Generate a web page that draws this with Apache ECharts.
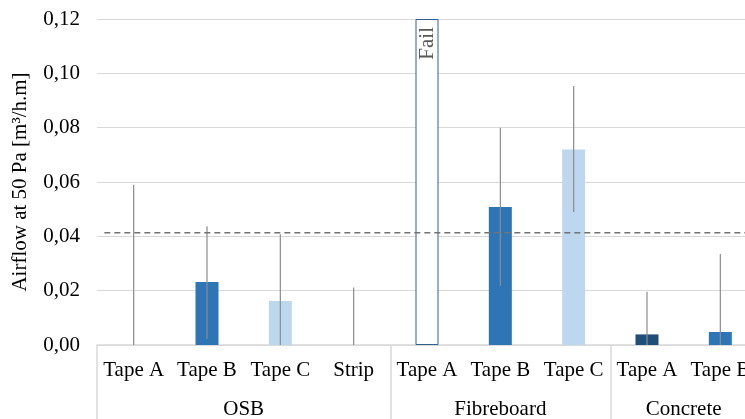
<!DOCTYPE html>
<html>
<head>
<meta charset="utf-8">
<script src="https://cdn.jsdelivr.net/npm/echarts@6/dist/echarts.min.js"></script>
<style>
  html, body { margin: 0; padding: 0; background: #fff; }
  #chart { width: 745px; height: 419px; }
</style>
</head>
<body>
<div id="chart"></div>
<script>
// Sealing products on different substrates: airflow at 50 Pa per metre of joint
const categories = ['Tape A', 'Tape B', 'Tape C', 'Strip', 'Tape A', 'Tape B', 'Tape C', 'Tape A', 'Tape B'];
const groupNames = ['OSB', 'Fibreboard', 'Concrete'];
const groupSizes = [4, 3, 2];
const airflow = [0, 0.0232, 0.0162, 0, 0.12, 0.0508, 0.072, 0.0039, 0.0048];
const errLow  = [0, 0.0022, 0, 0, null, 0.0217, 0.049, 0, 0];
const errHigh = [0.059, 0.0437, 0.0408, 0.0212, null, 0.080, 0.0953, 0.0196, 0.0335];
const status  = ['', '', '', '', 'Fail', '', '', '', ''];
const limitValue = 0.0413;
const yTicks = [0, 0.02, 0.04, 0.06, 0.08, 0.10, 0.12];

const barColors = ['#2e75b6', '#2e75b6', '#bdd7ee', '#2e75b6', '#ffffff', '#2e75b6', '#bdd7ee', '#1f4e79', '#2e75b6'];
const FONT = "'Liberation Serif', 'Times New Roman', serif";
const FS = 21;

// group boundaries and centres, in category units
const groupEdges = [0];
groupSizes.forEach(s => groupEdges.push(groupEdges[groupEdges.length - 1] + s));
const groupCentres = groupSizes.map((s, i) => groupEdges[i] + s / 2);
const span = groupEdges[groupEdges.length - 1];

const barData = airflow.map((v, i) => {
  const item = { value: v, itemStyle: { color: barColors[i] } };
  if (status[i]) {
    item.itemStyle = { color: '#ffffff', borderColor: '#2f5f91', borderWidth: 1 };
    item.label = {
      show: true, formatter: status[i], position: 'insideTop', distance: 8,
      rotate: 90, align: 'right', verticalAlign: 'middle',
      color: '#595959', fontSize: FS, fontFamily: FONT
    };
  }
  return item;
});

const errData = [];
categories.forEach((c, i) => {
  if (errHigh[i] != null) errData.push([i, errLow[i], errHigh[i]]);
});

const chart = echarts.init(document.getElementById('chart'), null, { renderer: 'canvas' });
chart.setOption({
  animation: false,
  backgroundColor: '#ffffff',
  grid: { left: 97, top: 19, right: -12, bottom: 74, containLabel: false, outerBoundsMode: 'none' },
  xAxis: [
    {
      type: 'category', data: categories, position: 'bottom',
      axisLine: { show: true, lineStyle: { color: '#d9d9d9', width: 1.5 } },
      axisTick: { show: false },
      axisLabel: { interval: 0, margin: 15, color: '#000', fontSize: FS, fontFamily: FONT },
      splitLine: { show: false }
    },
    {
      type: 'value', min: 0, max: span, position: 'bottom',
      axisLine: { show: false },
      splitLine: { show: false },
      axisTick: { show: true, customValues: groupEdges, length: 76, lineStyle: { color: '#d9d9d9', width: 1.5 } },
      axisLabel: {
        customValues: groupCentres, margin: 54, color: '#000', fontSize: FS, fontFamily: FONT,
        formatter: v => { const k = groupCentres.indexOf(v); return k >= 0 ? groupNames[k] : ''; }
      }
    }
  ],
  yAxis: {
    type: 'value', min: 0, max: yTicks[yTicks.length - 1], interval: 0.02,
    name: 'Airflow at 50 Pa [m³/h.m]', nameLocation: 'middle', nameGap: 66, nameRotate: 90,
    nameTextStyle: { color: '#000', fontSize: FS, fontFamily: FONT },
    axisLine: { show: false }, axisTick: { show: false },
    axisLabel: { margin: 17, color: '#000', fontSize: FS, fontFamily: FONT,
      formatter: v => v.toFixed(2).replace('.', ',') },
    splitLine: { lineStyle: { color: '#d9d9d9', width: 1 } }
  },
  series: [
    {
      type: 'bar', xAxisIndex: 0, data: barData, barWidth: 23, z: 2
    },
    {
      // reference limit drawn across the whole plot
      type: 'line', xAxisIndex: 1, data: [[0.1, limitValue], [span, limitValue]],
      symbol: 'none', silent: true, z: 4,
      lineStyle: { color: '#737373', type: [6, 4], width: 1.4 }
    },
    {
      type: 'custom', xAxisIndex: 0, data: errData, z: 3,
      renderItem: (params, api) => {
        const p1 = api.coord([api.value(0), api.value(1)]);
        const p2 = api.coord([api.value(0), api.value(2)]);
        return {
          type: 'line',
          shape: { x1: p1[0], y1: p1[1], x2: p2[0], y2: p2[1] },
          style: { stroke: '#8c8c8c', lineWidth: 1.2 }
        };
      }
    }
  ]
});
</script>
</body>
</html>
